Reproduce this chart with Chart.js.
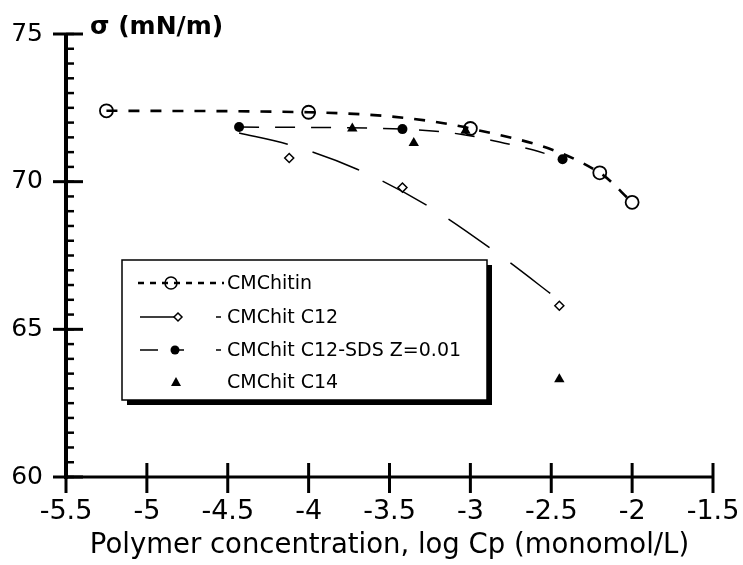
<!DOCTYPE html>
<html>
<head>
<meta charset="utf-8" />
<title>Surface tension vs polymer concentration</title>
<script src="https://cdn.jsdelivr.net/npm/chart.js"></script>
<style>
  body { margin: 0; background: #fff; }
  #wrap { width: 743px; height: 565px; }
</style>
</head>
<body>
<div id="wrap"><canvas id="myChart" width="743" height="565"></canvas></div>
<script>
// values
const xTicks = [-5.5, -5, -4.5, -4, -3.5, -3, -2.5, -2, -1.5];
const yTicks = [60, 65, 70, 75];

// CMChitin (open circles, short dashes)
const chitinX = [-5.25, -4.0, -3.0, -2.2, -2.0];
const chitinY = [72.4, 72.35, 71.8, 70.3, 69.3];

// CMChit C12 (open diamonds) and its drawn curve
const c12X = [-4.12, -3.42, -2.45];
const c12Y = [70.8, 69.8, 65.8];
const c12CurveX = [-4.43, -4.13, -3.7, -3.27, -2.84, -2.45];
const c12CurveY = [71.65, 71.27, 70.42, 69.2, 67.6, 65.98];

// CMChit C12-SDS Z=0.01 (filled circles) and its drawn curve
const sdsX = [-4.43, -3.42, -2.43];
const sdsY = [71.85, 71.78, 70.76];
const sdsCurveX = [-4.43, -3.42, -3.05, -2.82, -2.61, -2.43];
const sdsCurveY = [71.85, 71.78, 71.6, 71.34, 71.07, 70.76];

// CMChit C14 (filled triangles, no line)
const c14X = [-3.73, -3.35, -3.03, -2.45];
const c14Y = [71.8, 71.31, 71.72, 63.31];

const pts = (xs, ys) => xs.map((x, i) => ({ x: x, y: ys[i] }));
const FONT = "'DejaVu Sans', Verdana, sans-serif";

// axes drawn like the paper original: ticks crossing the axes, minor ticks on y
const paperAxes = {
  id: 'paperAxes',
  afterDatasetsDraw(chart) {
    const ctx = chart.ctx;
    const xs = chart.scales.x, ys = chart.scales.y;
    const a = chart.chartArea;
    ctx.save();
    ctx.strokeStyle = '#000';
    ctx.lineCap = 'butt';

    ctx.lineWidth = 4;
    ctx.beginPath();
    ctx.moveTo(a.left, a.top - 1);
    ctx.lineTo(a.left, a.bottom + 2);
    ctx.stroke();

    ctx.lineWidth = 3;
    ctx.beginPath();
    ctx.moveTo(a.left, a.bottom);
    ctx.lineTo(a.right, a.bottom);
    ctx.stroke();

    // minor y ticks every 0.5
    ctx.lineWidth = 2.5;
    for (let v = ys.min; v <= ys.max; v += 0.5) {
      const py = ys.getPixelForValue(v);
      ctx.beginPath();
      ctx.moveTo(a.left, py);
      ctx.lineTo(a.left + 8, py);
      ctx.stroke();
    }
    // major y ticks
    ctx.lineWidth = 3;
    yTicks.forEach(v => {
      const py = ys.getPixelForValue(v);
      ctx.beginPath();
      ctx.moveTo(a.left - 13, py);
      ctx.lineTo(a.left + 17, py);
      ctx.stroke();
    });
    // x ticks
    xTicks.forEach(v => {
      const px = xs.getPixelForValue(v);
      ctx.beginPath();
      ctx.moveTo(px, a.bottom - 14);
      ctx.lineTo(px, a.bottom + 16);
      ctx.stroke();
    });

    // y axis title
    ctx.fillStyle = '#000';
    ctx.font = 'bold 25px ' + FONT;
    ctx.textBaseline = 'alphabetic';
    ctx.textAlign = 'left';
    ctx.fillText('σ (mN/m)', a.left + 24, 34);

    // legend box with drop shadow
    const L = 122, T = 260, R = 487, B = 400;
    ctx.fillStyle = '#000';
    ctx.fillRect(R, T + 5, 5, B - T);
    ctx.fillRect(L + 5, B, R - L, 5);
    ctx.fillStyle = '#fff';
    ctx.fillRect(L, T, R - L, B - T);
    ctx.lineWidth = 1.5;
    ctx.strokeRect(L, T, R - L, B - T);

    const rows = [283, 317, 350, 382];
    ctx.fillStyle = '#000';
    ctx.strokeStyle = '#000';

    // row 1: dashed line with open circle
    ctx.lineWidth = 2.5;
    ctx.setLineDash([6, 6]);
    ctx.beginPath();
    ctx.moveTo(138, rows[0]);
    ctx.lineTo(224, rows[0]);
    ctx.stroke();
    ctx.setLineDash([]);
    ctx.lineWidth = 1.5;
    ctx.beginPath();
    ctx.arc(171, rows[0], 6, 0, Math.PI * 2);
    ctx.stroke();

    // row 2: solid line with open diamond
    ctx.lineWidth = 1.5;
    ctx.beginPath();
    ctx.moveTo(140, rows[1]);
    ctx.lineTo(174, rows[1]);
    ctx.moveTo(216, rows[1]);
    ctx.lineTo(221, rows[1]);
    ctx.stroke();
    ctx.beginPath();
    ctx.moveTo(178, rows[1] - 4);
    ctx.lineTo(182, rows[1]);
    ctx.lineTo(178, rows[1] + 4);
    ctx.lineTo(174, rows[1]);
    ctx.closePath();
    ctx.fillStyle = '#fff';
    ctx.fill();
    ctx.stroke();

    // row 3: long dash with filled circle
    ctx.fillStyle = '#000';
    ctx.beginPath();
    ctx.moveTo(140, rows[2]);
    ctx.lineTo(158, rows[2]);
    ctx.moveTo(175, rows[2]);
    ctx.lineTo(184, rows[2]);
    ctx.moveTo(216, rows[2]);
    ctx.lineTo(221, rows[2]);
    ctx.stroke();
    ctx.beginPath();
    ctx.arc(175, rows[2], 4.5, 0, Math.PI * 2);
    ctx.fill();

    // row 4: filled triangle
    ctx.beginPath();
    ctx.moveTo(176, rows[3] - 5);
    ctx.lineTo(181, rows[3] + 4);
    ctx.lineTo(171, rows[3] + 4);
    ctx.closePath();
    ctx.fill();

    ctx.font = '19px ' + FONT;
    ctx.textBaseline = 'middle';
    ['CMChitin', 'CMChit C12', 'CMChit C12-SDS Z=0.01', 'CMChit C14'].forEach((t, i) => {
      ctx.fillText(t, 227, rows[i] + 1);
    });
    ctx.restore();
  }
};

const ctx = document.getElementById('myChart');
new Chart(ctx, {
  type: 'scatter',
  data: {
    datasets: [
      {
        label: 'CMChitin',
        data: pts(chitinX, chitinY),
        showLine: true,
        borderColor: '#000',
        borderWidth: 2.6,
        borderDash: [11, 11],
        cubicInterpolationMode: 'monotone',
        pointStyle: 'circle',
        pointRadius: 6.5,
        pointBorderWidth: 1.8,
        pointBorderColor: '#000',
        pointBackgroundColor: 'rgba(0,0,0,0)'
      },
      {
        label: 'CMChit C12-SDS Z=0.01',
        data: pts(sdsX, sdsY),
        showLine: false,
        pointStyle: 'circle',
        pointRadius: 5,
        pointBorderWidth: 0,
        pointBackgroundColor: '#000'
      },
      {
        label: 'CMChit C14',
        data: pts(c14X, c14Y),
        showLine: false,
        pointStyle: 'triangle',
        pointRadius: 6,
        pointBorderWidth: 0,
        pointBackgroundColor: '#000'
      },
      {
        label: 'CMChit C12',
        data: pts(c12X, c12Y),
        showLine: false,
        pointStyle: 'rectRot',
        pointRadius: 4.5,
        pointBorderWidth: 1.5,
        pointBorderColor: '#000',
        pointBackgroundColor: '#fff'
      },
      {
        label: 'C12-SDS curve',
        data: pts(sdsCurveX, sdsCurveY),
        showLine: true,
        borderColor: '#000',
        borderWidth: 1.5,
        borderDash: [20, 16],
        cubicInterpolationMode: 'monotone',
        pointRadius: 0
      },
      {
        label: 'C12 curve',
        data: pts(c12CurveX, c12CurveY),
        showLine: true,
        borderColor: '#000',
        borderWidth: 1.5,
        borderDash: [50, 26],
        cubicInterpolationMode: 'monotone',
        pointRadius: 0
      }
    ]
  },
  options: {
    responsive: false,
    animation: false,
    events: [],
    layout: { padding: { left: 0, right: 30, top: 34, bottom: 0 } },
    plugins: {
      legend: { display: false },
      tooltip: { enabled: false }
    },
    scales: {
      x: {
        type: 'linear',
        min: -5.5,
        max: -1.5,
        afterBuildTicks: s => { s.ticks = xTicks.map(v => ({ value: v })); },
        afterFit: s => { s.height = 88; s.paddingLeft = 0; s.paddingRight = 0; },
        grid: { display: false, drawTicks: false },
        border: { display: false },
        ticks: {
          color: '#000',
          font: { family: FONT, size: 27 },
          padding: 19,
          maxRotation: 0,
          autoSkip: false,
          callback: v => String(v)
        },
        title: {
          display: true,
          text: 'Polymer concentration, log Cp (monomol/L)',
          color: '#000',
          font: { family: FONT, size: 27.5 },
          padding: { top: 0, bottom: 3 }
        }
      },
      y: {
        type: 'linear',
        min: 60,
        max: 75,
        afterBuildTicks: s => { s.ticks = yTicks.map(v => ({ value: v })); },
        afterFit: s => { s.width = 66; s.paddingTop = 0; s.paddingBottom = 0; },
        grid: { display: false, drawTicks: false },
        border: { display: false },
        ticks: {
          color: '#000',
          font: { family: FONT, size: 25 },
          padding: 23
        }
      }
    }
  },
  plugins: [paperAxes]
});
</script>
</body>
</html>
